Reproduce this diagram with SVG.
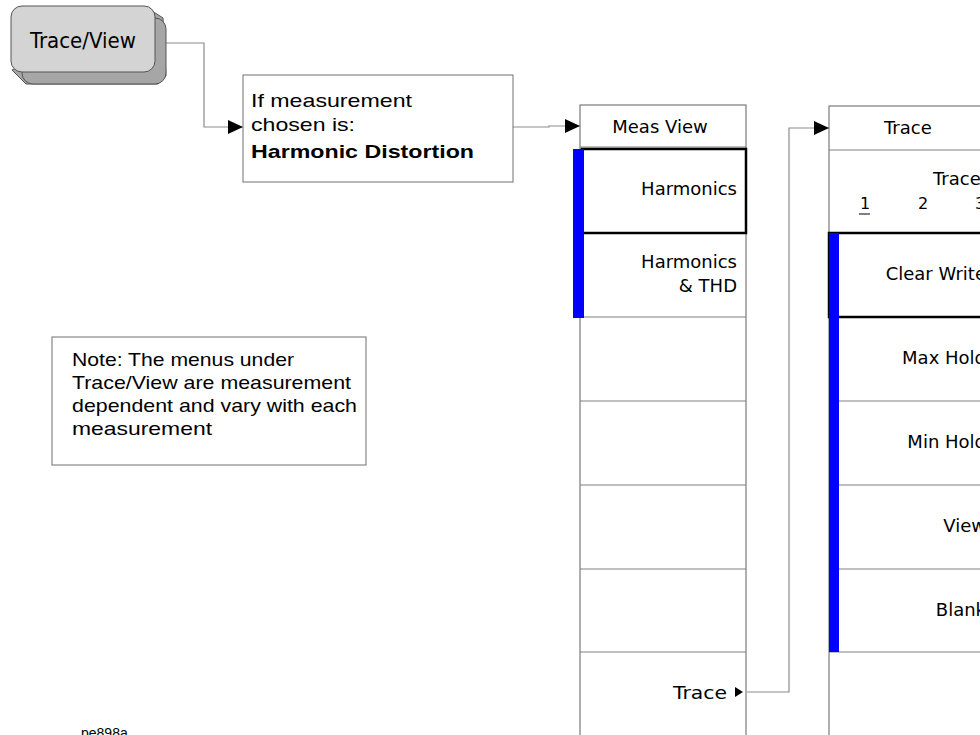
<svg xmlns="http://www.w3.org/2000/svg" width="980" height="735" viewBox="0 0 980 735">
<style>
.bg{fill:#fff}
.box{fill:#fff;stroke:#707070;stroke-width:1}
.sep{stroke:#808080;stroke-width:1.2;fill:none}
.edge{stroke:#606060;stroke-width:1;fill:none}
.sel{fill:#fff;stroke:#000;stroke-width:2.5}
.bar{fill:#0000ff}
.conn{stroke:#8c8c8c;stroke-width:1.2;fill:none}
.ar{font-family:"Liberation Sans",Arial,sans-serif;font-size:19px;fill:#000}
.arb{font-family:"Liberation Sans",Arial,sans-serif;font-size:19px;font-weight:bold;fill:#000}
.mk{font-family:"DejaVu Sans",sans-serif;font-size:18px;fill:#000}
.num{font-family:"DejaVu Sans",sans-serif;font-size:16px;fill:#000}
.key{font-family:"DejaVu Sans Condensed","DejaVu Sans",sans-serif;font-stretch:condensed;font-size:22px;fill:#000}
.small{font-family:"Liberation Sans",Arial,sans-serif;font-size:14px;fill:#000}
</style>
<defs>
<marker id="arr" viewBox="0 0 15 14" refX="15" refY="7" markerWidth="15" markerHeight="14" markerUnits="userSpaceOnUse" orient="auto">
<path d="M0,0 L15,7 L0,14 Z" fill="#000"/>
</marker>
</defs>
<rect class="bg" width="980" height="735"/>

<g id="connectors">
<polyline class="conn" points="166,43 204,43 204,127 243,127" marker-end="url(#arr)"/>
<polyline class="conn" points="513,127 549,127 549,126 580,126" marker-end="url(#arr)"/>
<polyline class="conn" points="747,692 789,692 789,128 829,128" marker-end="url(#arr)"/>
</g>

<g id="key-trace-view">
<polygon points="146,7 163,18 166,76 158,84 26,84 12,70" fill="#a6a6a6" stroke="#555" stroke-width="1"/>
<rect x="22" y="18" width="144" height="66" rx="11" fill="#a6a6a6" stroke="#555" stroke-width="1"/>
<rect x="11" y="6" width="144" height="66" rx="11" fill="#d4d4d4" stroke="#555" stroke-width="1"/>
<text class="key" x="83" y="48" text-anchor="middle">Trace/View</text>
</g>

<g id="condition-box">
<rect class="box" x="243" y="75" width="270" height="107"/>
<text class="ar" x="251" y="107" textLength="161" lengthAdjust="spacingAndGlyphs">If measurement</text>
<text class="ar" x="251" y="131" textLength="104" lengthAdjust="spacingAndGlyphs">chosen is:</text>
<text class="arb" x="251" y="158" textLength="223" lengthAdjust="spacingAndGlyphs">Harmonic Distortion</text>
</g>

<g id="note-box">
<rect class="box" x="52" y="337" width="314" height="128"/>
<text class="ar" x="72" y="366" textLength="222" lengthAdjust="spacingAndGlyphs">Note: The menus under</text>
<text class="ar" x="72" y="389" textLength="279" lengthAdjust="spacingAndGlyphs">Trace/View are measurement</text>
<text class="ar" x="72" y="412" textLength="285" lengthAdjust="spacingAndGlyphs">dependent and vary with each</text>
<text class="ar" x="72" y="435" textLength="140" lengthAdjust="spacingAndGlyphs">measurement</text>
</g>

<g id="menu-meas-view">
<rect class="edge" x="580" y="105" width="166" height="640"/>
<line class="sep" x1="580" y1="147" x2="746" y2="147"/>
<line class="sep" x1="580" y1="317" x2="746" y2="317"/>
<line class="sep" x1="580" y1="401" x2="746" y2="401"/>
<line class="sep" x1="580" y1="485" x2="746" y2="485"/>
<line class="sep" x1="580" y1="569" x2="746" y2="569"/>
<line class="sep" x1="580" y1="652" x2="746" y2="652"/>
<rect class="sel" x="582" y="149" width="164" height="84"/>
<rect class="bar" x="573" y="149" width="11" height="169"/>
<text class="mk" x="660" y="133" text-anchor="middle">Meas View</text>
<text class="mk" x="737" y="195" text-anchor="end">Harmonics</text>
<text class="mk" x="737" y="268" text-anchor="end">Harmonics</text>
<text class="mk" x="737" y="292" text-anchor="end">&amp; THD</text>
<text class="mk" x="727" y="699" text-anchor="end" textLength="54" lengthAdjust="spacingAndGlyphs">Trace</text>
<path d="M735,687 L743,692 L735,697 Z" fill="#000"/>
</g>

<g id="menu-trace">
<rect class="edge" x="829" y="106" width="167" height="640"/>
<line class="sep" x1="829" y1="150" x2="996" y2="150"/>
<line class="sep" x1="829" y1="401" x2="996" y2="401"/>
<line class="sep" x1="829" y1="485" x2="996" y2="485"/>
<line class="sep" x1="829" y1="569" x2="996" y2="569"/>
<line class="sep" x1="829" y1="652" x2="996" y2="652"/>
<rect class="sel" x="829" y="233" width="167" height="84"/>
<rect class="bar" x="829" y="233" width="10" height="419"/>
<text class="mk" x="884" y="134">Trace</text>
<text class="mk" x="933" y="185">Trace</text>
<text class="num" x="860" y="209">1</text>
<line x1="859" y1="214" x2="870" y2="214" stroke="#000" stroke-width="1"/>
<text class="num" x="918" y="209">2</text>
<text class="num" x="975" y="209">3</text>
<text class="mk" x="986" y="280" text-anchor="end">Clear Write</text>
<text class="mk" x="986" y="364" text-anchor="end">Max Hold</text>
<text class="mk" x="986" y="448" text-anchor="end">Min Hold</text>
<text class="mk" x="986" y="532" text-anchor="end">View</text>
<text class="mk" x="986" y="616" text-anchor="end">Blank</text>
</g>

<text class="small" x="81" y="738">pe898a</text>
</svg>
